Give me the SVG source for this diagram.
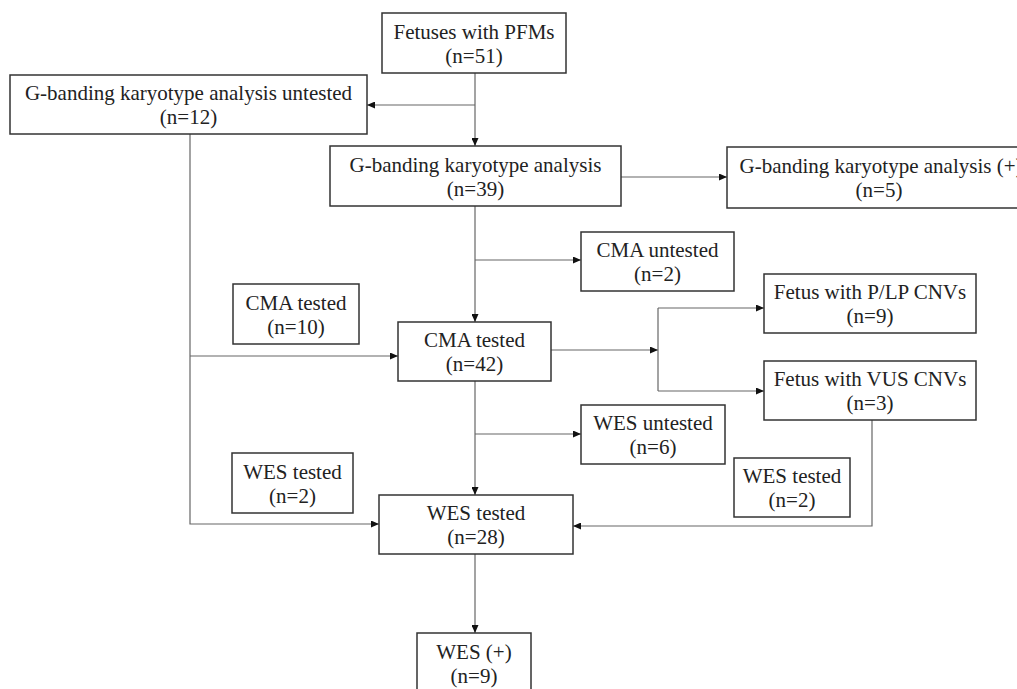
<svg xmlns="http://www.w3.org/2000/svg" width="1017" height="689" viewBox="0 0 1017 689">
<style>
.box{fill:#fff;stroke:#333;stroke-width:1.5}
.t{font-family:"Liberation Serif","Times New Roman",serif;font-size:21px;fill:#222;text-anchor:middle}
.c{fill:none;stroke:#666;stroke-width:1.2}
</style>
<defs>
<marker id="ah" markerUnits="userSpaceOnUse" markerWidth="8" markerHeight="7" refX="8" refY="3.5" orient="auto">
<path d="M0,0 L8,3.5 L0,7 z" fill="#111"/>
</marker>
</defs>
<rect width="1017" height="689" fill="#fff"/>
<g id="connectors">
<path class="c" d="M475,73 V146" marker-end="url(#ah)"/>
<path class="c" d="M475,105 H367" marker-end="url(#ah)"/>
<path class="c" d="M621,177 H727" marker-end="url(#ah)"/>
<path class="c" d="M475,206 V322" marker-end="url(#ah)"/>
<path class="c" d="M475,260 H581" marker-end="url(#ah)"/>
<path class="c" d="M190,134 V524 H379" marker-end="url(#ah)"/>
<path class="c" d="M190,356 H398" marker-end="url(#ah)"/>
<path class="c" d="M551,350 H658" marker-end="url(#ah)"/>
<path class="c" d="M658,308 V391"/>
<path class="c" d="M658,308 H764" marker-end="url(#ah)"/>
<path class="c" d="M658,391 H764" marker-end="url(#ah)"/>
<path class="c" d="M475,381 V495" marker-end="url(#ah)"/>
<path class="c" d="M475,434 H581" marker-end="url(#ah)"/>
<path class="c" d="M872,420 V526 H573" marker-end="url(#ah)"/>
<path class="c" d="M475,554 V633" marker-end="url(#ah)"/>
</g>
<g id="n-fetuses"><rect class="box" x="382" y="13" width="184" height="60"/><text class="t" x="474" y="39">Fetuses with PFMs</text><text class="t" x="474" y="63">(n=51)</text></g>
<g id="n-g-untested"><rect class="box" x="10" y="75" width="357" height="59"/><text class="t" x="188.5" y="100">G-banding karyotype analysis untested</text><text class="t" x="188.5" y="124">(n=12)</text></g>
<g id="n-g-analysis"><rect class="box" x="330" y="146" width="291" height="60"/><text class="t" x="475.5" y="172">G-banding karyotype analysis</text><text class="t" x="475.5" y="196">(n=39)</text></g>
<g id="n-g-positive"><rect class="box" x="727" y="147" width="304" height="61"/><text class="t" x="881" y="173">G-banding karyotype analysis (+)</text><text class="t" x="879" y="197">(n=5)</text></g>
<g id="n-cma-untested"><rect class="box" x="581" y="232" width="153" height="59"/><text class="t" x="657.5" y="257">CMA untested</text><text class="t" x="657.5" y="281">(n=2)</text></g>
<g id="n-plp"><rect class="box" x="764" y="274" width="212" height="59"/><text class="t" x="870" y="299">Fetus with P/LP CNVs</text><text class="t" x="870" y="323">(n=9)</text></g>
<g id="n-vus"><rect class="box" x="764" y="361" width="212" height="59"/><text class="t" x="870" y="386">Fetus with VUS CNVs</text><text class="t" x="870" y="410">(n=3)</text></g>
<g id="n-cma-tested-10"><rect class="box" x="233" y="284" width="126" height="60"/><text class="t" x="296" y="310">CMA tested</text><text class="t" x="296" y="334">(n=10)</text></g>
<g id="n-cma-tested-42"><rect class="box" x="398" y="322" width="153" height="59"/><text class="t" x="474.5" y="347">CMA tested</text><text class="t" x="474.5" y="371">(n=42)</text></g>
<g id="n-wes-untested"><rect class="box" x="581" y="405" width="144" height="59"/><text class="t" x="653" y="430">WES untested</text><text class="t" x="653" y="454">(n=6)</text></g>
<g id="n-wes-tested-2a"><rect class="box" x="232" y="453" width="121" height="60"/><text class="t" x="292.5" y="479">WES tested</text><text class="t" x="292.5" y="503">(n=2)</text></g>
<g id="n-wes-tested-2b"><rect class="box" x="734" y="458" width="116" height="59"/><text class="t" x="792" y="483">WES tested</text><text class="t" x="792" y="507">(n=2)</text></g>
<g id="n-wes-tested-28"><rect class="box" x="379" y="495" width="194" height="59"/><text class="t" x="476" y="520">WES tested</text><text class="t" x="476" y="544">(n=28)</text></g>
<g id="n-wes-positive"><rect class="box" x="417" y="633" width="114" height="62"/><text class="t" x="474" y="659">WES (+)</text><text class="t" x="474" y="683">(n=9)</text></g>
</svg>
